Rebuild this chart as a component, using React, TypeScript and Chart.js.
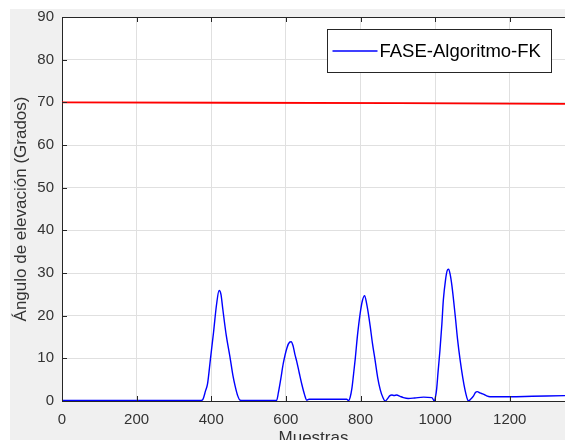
import React, { useEffect, useRef } from "react";
import { Chart, registerables } from "chart.js";

Chart.register(...registerables);

// ---- data ----
const seriesLabel = "FASE-Algoritmo-FK";
const xTitle = "Muestras";
const yTitle = "Ángulo de elevación (Grados)";

const xTicks = [0, 200, 400, 600, 800, 1000, 1200];
const yTicks = [0, 10, 20, 30, 40, 50, 60, 70, 80, 90];

const blueX = [
  0, 370, 377, 385, 390, 398, 406, 414, 421, 426, 431, 440, 450, 458, 464, 471, 477, 485,
  575, 580, 586, 593, 603, 610, 614, 619, 624, 629, 636, 643, 650, 656, 662, 700, 763,
  768, 772, 777, 781, 786, 792, 799, 805, 811, 816, 821, 826, 832, 839, 846, 853, 860,
  866, 872, 878, 884, 890, 897, 906, 915, 928, 945, 969, 991, 998, 1001, 1004, 1008,
  1013, 1018, 1022, 1028, 1032, 1036, 1040, 1045, 1054, 1060, 1067, 1074, 1080, 1085,
  1089, 1095, 1103, 1108, 1113, 1120, 1129, 1138, 1147, 1170, 1201, 1260, 1348,
];
const blueY = [
  0.1, 0.1, 0.3, 2.5, 4, 10, 16, 22.5, 25.9, 25, 21.5, 15.5, 10.4, 6, 3.5, 1.2, 0.2, 0.1,
  0.1, 2.0, 5.0, 8.8, 12.5, 13.8, 13.9, 13, 11, 9.3, 6.5, 3.8, 1.5, 0.2, 0.4, 0.4, 0.4,
  0.1, 0.8, 3, 6, 10, 15.5, 20.5, 23.5, 24.7, 23, 20.5, 17.5, 13.5, 9.6, 5.5, 2.6, 0.8,
  0.0, 0.5, 1.2, 1.4, 1.3, 1.4, 1.1, 0.8, 0.6, 0.7, 0.9, 0.8, 0.0, 1.0, 2.8, 7,
  12, 18, 23.7, 28.5, 30.5, 30.9, 29.8, 27, 19.8, 14.5, 9.6, 5.5, 2.6, 0.8,
  0.0, 0.4, 1.2, 2.0, 2.2, 1.9, 1.6, 1.2, 1.0, 1.0, 1.0, 1.1, 1.25,
];

const redX = [0, 450, 900, 1348];
const redY = [70.0, 69.9, 69.8, 69.65];

const X_MAX = 1348;
const Y_MIN = 0;
const Y_MAX = 90;

const FONT = "'Liberation Sans', Arial, Helvetica, sans-serif";
const AXIS_COLOR = "#262626";
const TEXT_COLOR = "#333333";
const GRID_COLOR = "#e0e0e0";

const matlabPlugin = {
  id: "matlabBox",
  afterDatasetsDraw(chart: any) {
    const { ctx, chartArea } = chart;
    const xs = chart.scales.x;
    const ys = chart.scales.y;
    ctx.save();
    ctx.strokeStyle = AXIS_COLOR;
    ctx.lineWidth = 1;
    ctx.beginPath();
    ctx.moveTo(chartArea.left, Math.round(chartArea.top) + 0.5);
    ctx.lineTo(chartArea.right, Math.round(chartArea.top) + 0.5);
    xTicks.forEach((v) => {
      const px = Math.round(xs.getPixelForValue(v)) + 0.5;
      ctx.moveTo(px, chartArea.bottom);
      ctx.lineTo(px, chartArea.bottom - 5);
      ctx.moveTo(px, chartArea.top);
      ctx.lineTo(px, chartArea.top + 5);
    });
    yTicks.forEach((v) => {
      const py = Math.round(ys.getPixelForValue(v)) + 0.5;
      ctx.moveTo(chartArea.left, py);
      ctx.lineTo(chartArea.left + 5, py);
    });
    ctx.stroke();
    ctx.restore();
  },
  afterDraw(chart: any) {
    const { ctx, chartArea } = chart;
    const ds = chart.data.datasets[0];
    const boxW = 224;
    const boxH = 43;
    const bx = Math.round(chartArea.right - 14 - boxW) + 0.5;
    const by = Math.round(chartArea.top + 12) + 0.5;
    ctx.save();
    ctx.fillStyle = "#ffffff";
    ctx.fillRect(bx, by, boxW, boxH);
    ctx.strokeStyle = AXIS_COLOR;
    ctx.lineWidth = 1;
    ctx.strokeRect(bx, by, boxW, boxH);
    const cy = by + boxH / 2;
    ctx.strokeStyle = ds.borderColor;
    ctx.lineWidth = 1.3;
    ctx.beginPath();
    ctx.moveTo(bx + 5, cy);
    ctx.lineTo(bx + 50, cy);
    ctx.stroke();
    ctx.fillStyle = "#000000";
    ctx.font = `18.5px ${FONT}`;
    ctx.textBaseline = "middle";
    ctx.textAlign = "left";
    ctx.fillText(ds.label, bx + 52, cy + 1);
    ctx.restore();
  },
};

export default function App() {
  const canvasRef = useRef<HTMLCanvasElement | null>(null);

  useEffect(() => {
    const canvas = canvasRef.current;
    if (!canvas) return;
    const chart = new Chart(canvas, {
      type: "line",
      data: {
        datasets: [
          {
            label: seriesLabel,
            data: blueX.map((x, i) => ({ x, y: blueY[i] })),
            borderColor: "#0000ff",
            borderWidth: 1.4,
            pointRadius: 0,
            cubicInterpolationMode: "monotone",
            fill: false,
          },
          {
            label: "",
            data: redX.map((x, i) => ({ x, y: redY[i] })),
            borderColor: "#ff0000",
            borderWidth: 1.8,
            pointRadius: 0,
            fill: false,
          },
        ],
      },
      options: {
        animation: false,
        responsive: false,
        maintainAspectRatio: false,
        layout: { padding: { top: 8, left: 0, right: 0, bottom: 0 } },
        plugins: {
          legend: { display: false },
          tooltip: { enabled: false },
        },
        scales: {
          x: {
            type: "linear",
            min: 0,
            max: X_MAX,
            afterBuildTicks: (s: any) => {
              s.ticks = xTicks.map((v) => ({ value: v }));
            },
            afterFit: (s: any) => {
              s.height = 53;
              s.paddingLeft = 0;
              s.paddingRight = 0;
            },
            ticks: {
              padding: 11,
              maxRotation: 0,
              autoSkip: false,
              color: TEXT_COLOR,
              font: { family: FONT, size: 15, lineHeight: 1 },
              callback: (v: any) => String(v),
            },
            grid: { color: GRID_COLOR, drawTicks: false, lineWidth: 1 },
            border: { display: true, color: AXIS_COLOR, width: 1 },
            title: {
              display: true,
              text: xTitle,
              color: TEXT_COLOR,
              font: { family: FONT, size: 17 },
              padding: { top: 0, bottom: 5 },
            },
          },
          y: {
            type: "linear",
            min: Y_MIN,
            max: Y_MAX,
            afterBuildTicks: (s: any) => {
              s.ticks = yTicks.map((v) => ({ value: v }));
            },
            afterFit: (s: any) => {
              s.width = 52;
              s.paddingTop = 0;
              s.paddingBottom = 0;
            },
            ticks: {
              padding: 8,
              color: TEXT_COLOR,
              font: { family: FONT, size: 15, lineHeight: 1 },
              callback: (v: any) => String(v),
            },
            grid: { color: GRID_COLOR, drawTicks: false, lineWidth: 1 },
            border: { display: true, color: AXIS_COLOR, width: 1 },
            title: {
              display: true,
              text: yTitle,
              color: TEXT_COLOR,
              font: { family: FONT, size: 17 },
              padding: { top: 1, bottom: 0 },
            },
          },
        },
      },
      plugins: [
        {
          id: "whiteArea",
          beforeDraw(chart: any) {
            const { ctx, chartArea } = chart;
            ctx.save();
            ctx.fillStyle = "#ffffff";
            ctx.fillRect(
              chartArea.left,
              chartArea.top,
              chartArea.right - chartArea.left,
              chartArea.bottom - chartArea.top
            );
            ctx.restore();
          },
        },
        matlabPlugin,
      ],
    });
    return () => chart.destroy();
  }, []);

  return (
    <div
      style={{
        position: "fixed",
        left: 0,
        top: 0,
        width: 565,
        height: 440,
        background: "#ffffff",
        overflow: "hidden",
      }}
    >
      <div
        style={{
          position: "absolute",
          left: 10,
          top: 9,
          width: 555,
          height: 431,
          background: "#f0f0f0",
          overflow: "hidden",
        }}
      >
        <canvas
          ref={canvasRef}
          width={555}
          height={445}
          style={{ display: "block", width: 555, height: 445 }}
        />
      </div>
    </div>
  );
}
